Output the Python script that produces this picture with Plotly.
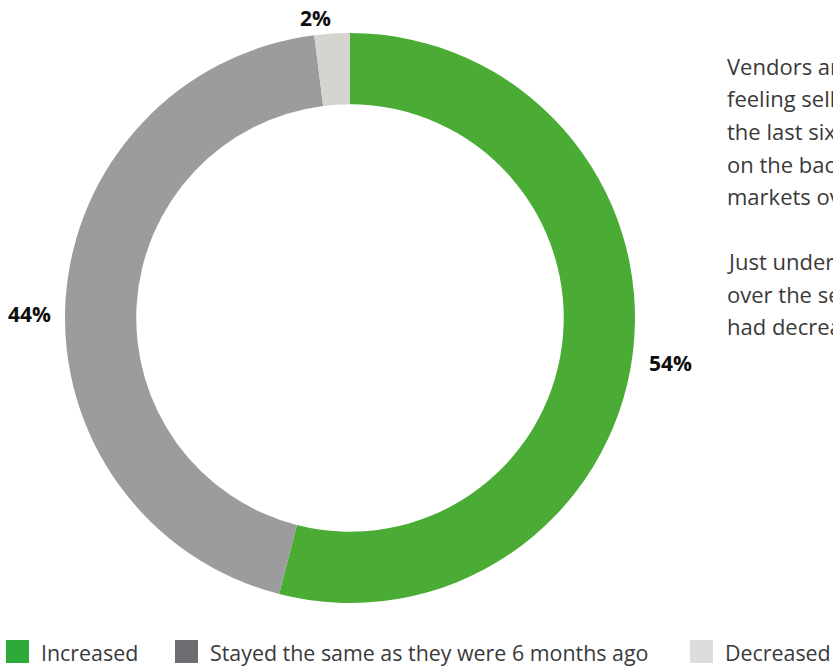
import plotly.graph_objects as go

# Survey responses: how sale conditions changed over six months
categories = ["Increased", "Stayed the same as they were 6 months ago", "Decreased"]
shares = [54, 44, 2]
slice_colors = ["#4aab35", "#9b9c9e", "#d5d4d1"]
legend_colors = ["#2eaa38", "#6c6d71", "#dddddd"]

# Commentary shown beside the chart, one entry per line ("" = paragraph gap)
commentary = [
    "Vendors are increasingly",
    "feeling sellers' confidence rise over",
    "the last six months, largely",
    "on the back of stronger",
    "markets overall.",
    "",
    "Just under half said prices",
    "over the second half of the year",
    "had decreased or held steady.",
]

W, H = 833, 666
FONT = "Open Sans"
TEXT_COL = "#3a3a3a"

# Pixel centres of the percentage labels outside each slice
label_xy = [(670, 363), (29, 314), (315, 18)]

fig = go.Figure()
fig.add_trace(go.Pie(
    labels=categories,
    values=shares,
    hole=0.75,
    sort=False,
    direction="clockwise",
    rotation=0,
    marker=dict(colors=slice_colors, line=dict(width=0)),
    textinfo="none",
    showlegend=False,
    hoverinfo="label+percent",
    domain=dict(x=[65 / W, 635 / W], y=[1 - 603 / H, 1 - 33 / H]),
))

annotations = []
shapes = []

# Percentage labels
for v, (px, py) in zip(shares, label_xy):
    annotations.append(dict(
        text=f"<b>{v}%</b>", xref="paper", yref="paper",
        x=px / W, y=1 - py / H, xanchor="center", yanchor="middle",
        showarrow=False,
        font=dict(family=FONT, size=21, color="#0d0d0d"),
    ))

# Side commentary, fixed line pitch
for i, line in enumerate(commentary):
    if not line:
        continue
    annotations.append(dict(
        text=line, xref="paper", yref="paper",
        x=725 / W, y=1 - (66 + 32.5 * i) / H,
        xanchor="left", yanchor="middle", showarrow=False,
        font=dict(family=FONT, size=22, color=TEXT_COL),
    ))

# Legend row along the bottom
legend_x = [6, 175, 690]
for cat, col, x0 in zip(categories, legend_colors, legend_x):
    shapes.append(dict(
        type="rect", xref="paper", yref="paper",
        x0=x0 / W, x1=(x0 + 23) / W, y0=1 - 663 / H, y1=1 - 640 / H,
        fillcolor=col, line=dict(width=0),
    ))
    annotations.append(dict(
        text=cat, xref="paper", yref="paper",
        x=(x0 + 33) / W, y=1 - 652 / H,
        xanchor="left", yanchor="middle", showarrow=False,
        font=dict(family=FONT, size=21.4, color=TEXT_COL),
    ))

fig.update_layout(
    width=W, height=H,
    margin=dict(l=0, r=0, t=0, b=0),
    paper_bgcolor="white", plot_bgcolor="white",
    annotations=annotations, shapes=shapes,
)

fig.write_html("out.html")
